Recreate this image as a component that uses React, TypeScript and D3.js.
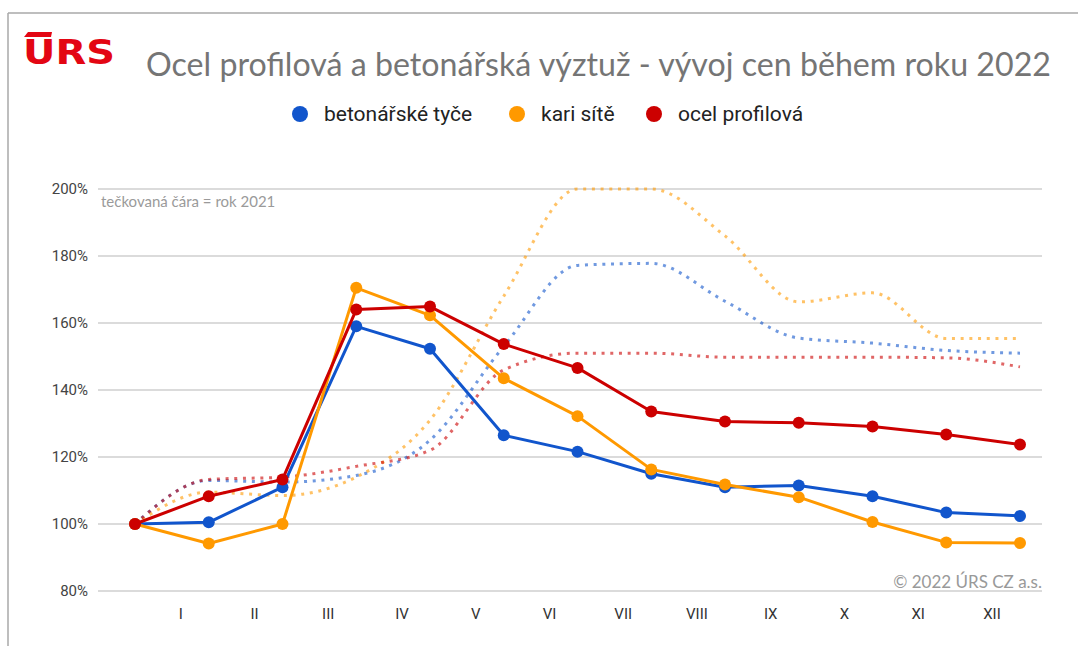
import React from "react";
import * as d3 from "d3";

// ---- data ----
const months = ["I", "II", "III", "IV", "V", "VI", "VII", "VIII", "IX", "X", "XI", "XII"];
const yTicks = [80, 100, 120, 140, 160, 180, 200];
const seriesNames = ["betonářské tyče", "kari sítě", "ocel profilová"];
const seriesColors = ["#1155cc", "#ff9900", "#cc0000"];

// 2022 (solid) – index 0 = start (100 %), then end of each month
const rebar2022 = [100, 100.5, 111, 159, 152.3, 126.5, 121.6, 115, 111, 111.5, 108.3, 103.4, 102.4];
const mesh2022 = [100, 94.2, 100, 170.5, 162.3, 143.5, 132.2, 116.3, 111.8, 108, 100.6, 94.5, 94.3];
const profile2022 = [100, 108.3, 113.3, 164, 164.9, 153.7, 146.6, 133.6, 130.6, 130.2, 129.1, 126.7, 123.7];

// 2021 (dotted)
const rebar2021 = [100, 113, 112.5, 114.5, 125, 153, 177.2, 177.8, 166.5, 155.5, 154, 151.8, 151];
const mesh2021 = [100, 109.5, 108.5, 114, 131, 168, 200, 200, 186, 166.3, 169, 155.4, 155.4];
const profile2021 = [100, 113.3, 114, 117.2, 122, 146, 151, 151, 149.8, 149.8, 149.8, 149.6, 146.9];

const series2022 = [rebar2022, mesh2022, profile2022];
const series2021 = [rebar2021, mesh2021, profile2021];

const title = "Ocel profilová a betonářská výztuž - vývoj cen během roku 2022";
const note = "tečkovaná čára = rok 2021";
const copyright = "© 2022 ÚRS CZ a.s.";

export default function App() {
  const W = 1078;
  const H = 646;
  const x = d3.scaleLinear().domain([0, months.length]).range([135, 1020]);
  const y = d3.scaleLinear().domain([80, 200]).range([591, 189]);
  const gridX0 = 98;
  const gridX1 = 1042;

  const solid = d3
    .line<number>()
    .x((_, i) => x(i))
    .y((d) => y(d));
  const dotted = d3
    .line<number>()
    .x((_, i) => x(i))
    .y((d) => y(d))
    .curve(d3.curveMonotoneX);

  const legendCx = [300, 517, 654];
  const fontSans = "Roboto, 'Liberation Sans', Arial, sans-serif";
  const fontHuman = "Lato, 'Open Sans', sans-serif";

  return (
    <div style={{ position: "absolute", left: 0, top: 0 }}>
      <svg width={W} height={H} style={{ display: "block", background: "#fff" }}>
        <rect x={0} y={0} width={W} height={H} fill="#fff" />
        {/* frame */}
        <line x1={8} y1={13} x2={W} y2={13} stroke="#a8a8a8" strokeWidth={1.5} />
        <line x1={8} y1={13} x2={8} y2={H} stroke="#a8a8a8" strokeWidth={1.5} />

        {/* logo */}
        <g fill="#e30613">
          <polygon points="28,32 52,32 51,37 24,37" />
          <text
            x={23}
            y={64}
            fontFamily="'DejaVu Sans', 'Liberation Sans', sans-serif"
            fontWeight={900}
            fontSize={34}
            textLength={92}
            lengthAdjust="spacingAndGlyphs"
          >
            URS
          </text>
        </g>

        {/* title */}
        <text
          x={146}
          y={76}
          fontFamily={fontHuman}
          fontSize={32}
          fill="#757575"
          textLength={905}
          lengthAdjust="spacingAndGlyphs"
        >
          {title}
        </text>

        {/* legend */}
        {seriesNames.map((name, i) => (
          <g key={name}>
            <circle cx={legendCx[i]} cy={114} r={8} fill={seriesColors[i]} />
            <text x={legendCx[i] + 24} y={121} fontFamily={fontSans} fontSize={21} fill="#222">
              {name}
            </text>
          </g>
        ))}

        {/* gridlines + y labels */}
        {yTicks.map((t) => (
          <g key={t}>
            <line x1={gridX0} x2={gridX1} y1={y(t)} y2={y(t)} stroke="#cfcfcf" strokeWidth={1.5} />
            <text
              x={88}
              y={y(t)}
              dy="0.35em"
              textAnchor="end"
              fontFamily={fontSans}
              fontSize={15}
              fill="#444"
            >
              {t}%
            </text>
          </g>
        ))}

        {/* x labels */}
        {months.map((m, i) => (
          <text
            key={m}
            x={x(i + 0.62)}
            y={619}
            textAnchor="middle"
            fontFamily={fontSans}
            fontSize={15}
            fill="#333"
          >
            {m}
          </text>
        ))}

        {/* note */}
        <text x={101} y={207} fontFamily={fontHuman} fontSize={15} fill="#9a9a9a">
          {note}
        </text>

        {/* copyright */}
        <text x={gridX1} y={588} textAnchor="end" fontFamily={fontHuman} fontSize={17} fill="#999">
          {copyright}
        </text>

        {/* 2021 dotted lines */}
        {series2021.map((s, i) => (
          <path
            key={"d" + i}
            d={dotted(s) || ""}
            fill="none"
            stroke={seriesColors[i]}
            strokeOpacity={0.6}
            strokeWidth={3}
            strokeDasharray="3 5.7"
          />
        ))}

        {/* 2022 solid lines */}
        {series2022.map((s, i) => (
          <g key={"s" + i}>
            <path d={solid(s) || ""} fill="none" stroke={seriesColors[i]} strokeWidth={3} strokeLinejoin="round" />
            {s.map((v, j) => (
              <circle key={j} cx={x(j)} cy={y(v)} r={6} fill={seriesColors[i]} />
            ))}
          </g>
        ))}
      </svg>
    </div>
  );
}
